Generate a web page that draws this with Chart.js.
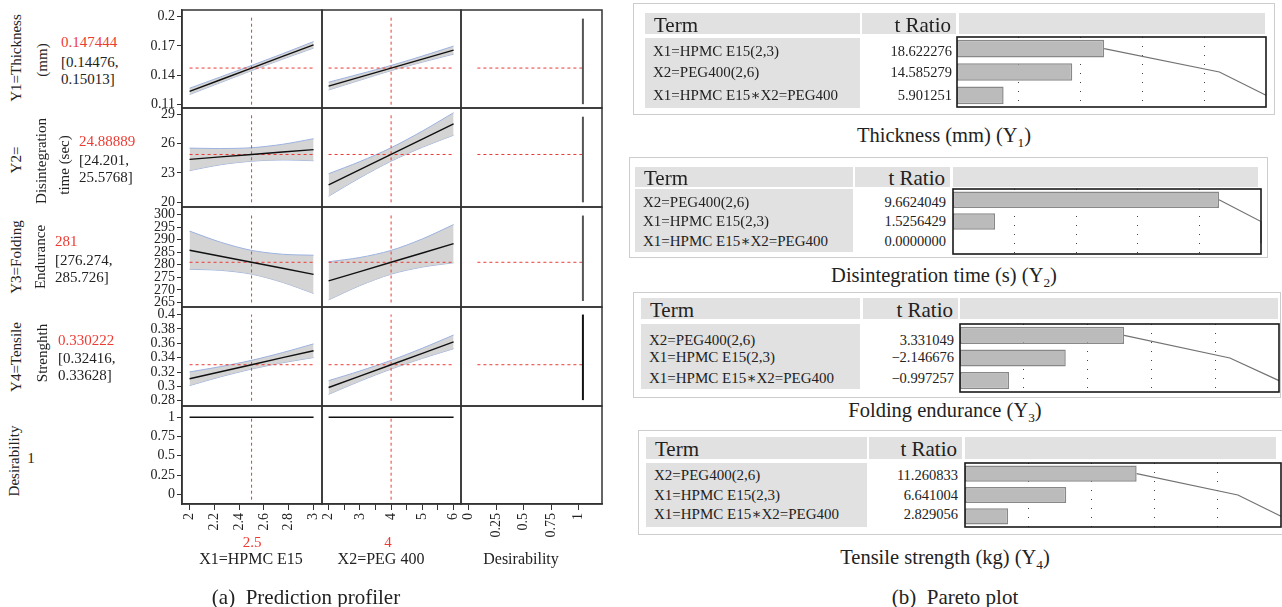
<!DOCTYPE html>
<html>
<head>
    <title>Prediction profiler and Pareto plot</title>
    <meta charset="utf-8" />
    <script src="https://cdn.jsdelivr.net/npm/chart.js"></script>
    <style>
        body {
            margin: 0;
            background: #fff;
            font-family: "Liberation Serif", "DejaVu Serif", serif;
            color: #222;
        }

        #page {
            position: relative;
            width: 1282px;
            height: 607px;
            overflow: hidden;
        }

        #page canvas {
            position: absolute;
        }

        .txt {
            position: absolute;
            white-space: nowrap;
            line-height: 1;
        }

        .gray {
            position: absolute;
            background: #e1e1e1;
        }

        .frame {
            position: absolute;
            border: 1.5px solid #cdcdcd;
            box-sizing: border-box;
        }

        sub {
            font-size: 0.65em;
            line-height: 0;
        }
    </style>
</head>
<body>
    <div id="page"></div>

    <script>
        // ---- profiler: factor settings ----
        const x1Grid = [2, 2.25, 2.5, 2.75, 3];
        const x2Grid = [2, 3, 4, 5, 6];
        const x1Ticks = [2, 2.2, 2.4, 2.6, 2.8, 3];
        const x2Ticks = [2, 2.5, 3, 3.5, 4, 4.5, 5, 5.5, 6];
        const desTicks = [0, 0.25, 0.5, 0.75, 1];
        const x1Now = 2.5;
        const x2Now = 4;

        // Y1 thickness
        const thickTicks = [0.11, 0.14, 0.17, 0.2];
        const thickNow = 0.147444;
        const thickCI = [0.14476, 0.15013];
        const thickPredX1 = [0.1236, 0.1355, 0.1474, 0.1593, 0.1712];
        const thickUpX1 = [0.1268, 0.1384, 0.1501, 0.1621, 0.1745];
        const thickLoX1 = [0.1204, 0.1326, 0.1448, 0.1565, 0.1679];
        const thickPredX2 = [0.1290, 0.1382, 0.1474, 0.1566, 0.1658];
        const thickUpX2 = [0.1330, 0.1414, 0.1501, 0.1597, 0.1699];
        const thickLoX2 = [0.1250, 0.1350, 0.1448, 0.1535, 0.1617];

        // Y2 disintegration time
        const disTicks = [20, 23, 26, 29];
        const disNow = 24.88889;
        const disCI = [24.201, 25.5768];
        const disPredX1 = [24.39, 24.64, 24.889, 25.14, 25.39];
        const disUpX1 = [25.54, 25.50, 25.577, 25.93, 26.50];
        const disLoX1 = [23.24, 23.84, 24.201, 24.33, 24.25];
        const disPredX2 = [21.77, 23.33, 24.889, 26.45, 28.01];
        const disUpX2 = [22.92, 24.16, 25.577, 27.28, 29.16];
        const disLoX2 = [20.62, 22.50, 24.201, 25.62, 26.86];

        // Y3 folding endurance
        const foldTicks = [265, 270, 275, 280, 285, 290, 295, 300];
        const foldNow = 281;
        const foldCI = [276.274, 285.726];
        const foldPredX1 = [285.8, 283.4, 281.0, 278.6, 276.2];
        const foldUpX1 = [293.4, 289.0, 285.726, 284.2, 283.8];
        const foldLoX1 = [278.2, 277.8, 276.274, 273.0, 268.6];
        const foldPredX2 = [273.6, 277.3, 281.0, 284.7, 288.4];
        const foldUpX2 = [281.2, 282.9, 285.726, 290.3, 296.0];
        const foldLoX2 = [266.0, 271.7, 276.274, 279.1, 280.8];

        // Y4 tensile strength
        const tensTicks = [0.28, 0.3, 0.32, 0.34, 0.36, 0.38, 0.4];
        const tensNow = 0.330222;
        const tensCI = [0.32416, 0.33628];
        const tensPredX1 = [0.3107, 0.3205, 0.3302, 0.3400, 0.3497];
        const tensUpX1 = [0.3202, 0.3276, 0.33628, 0.3471, 0.3592];
        const tensLoX1 = [0.3012, 0.3134, 0.32416, 0.3329, 0.3402];
        const tensPredX2 = [0.2985, 0.3144, 0.3302, 0.3461, 0.3620];
        const tensUpX2 = [0.3080, 0.3215, 0.33628, 0.3532, 0.3715];
        const tensLoX2 = [0.2890, 0.3073, 0.32416, 0.3390, 0.3525];

        // desirability
        const desirTicks = [0, 0.25, 0.5, 0.75, 1];
        const desirNow = 1;
        const desirX1 = [1, 1, 1, 1, 1];
        const desirX2 = [1, 1, 1, 1, 1];

        // desirability function traces (right column)
        const fnX = 1.04;
        const fnRedStart = 0.08;
        const thickFn = [0.1105, 0.198];
        const disFn = [20.0, 28.75];
        const foldFn = [265.6, 299.6];
        const tensFn = [0.281, 0.4];

        // ---- pareto plots ----
        const thickTerms = ['X1=HPMC E15(2,3)', 'X2=PEG400(2,6)', 'X1=HPMC E15∗X2=PEG400'];
        const thickT = [18.622276, 14.585279, 5.901251];
        const thickCum = [18.622276, 33.207555, 39.108806];

        const disTerms = ['X2=PEG400(2,6)', 'X1=HPMC E15(2,3)', 'X1=HPMC E15∗X2=PEG400'];
        const disT = [9.6624049, 1.5256429, 0.0];
        const disCum = [9.6624049, 11.1880478, 11.1880478];

        const foldTerms = ['X2=PEG400(2,6)', 'X1=HPMC E15(2,3)', 'X1=HPMC E15∗X2=PEG400'];
        const foldT = [3.331049, -2.146676, -0.997257];
        const foldCum = [3.331049, 5.477725, 6.474982];

        const tensTerms = ['X2=PEG400(2,6)', 'X1=HPMC E15(2,3)', 'X1=HPMC E15∗X2=PEG400'];
        const tensT = [11.260833, 6.641004, 2.829056];
        const tensCum = [11.260833, 17.901837, 20.730893];

        // ---- look ----
        const FONT = '"Liberation Serif", "DejaVu Serif", serif';
        const INK = '#222';
        const RED = '#ec3b33';
        const BAND = 'rgba(207,207,207,0.9)';
        const BAND_EDGE = '#9cb2e0';
        const P = 2;

        const page = document.getElementById('page');

        const colX = [182, 322, 461, 602];
        const rowY = [10, 108, 207, 307, 406, 504];
        const axisW = 62;
        const axisH = 45;

        const rows = [
            { ticks: thickTicks, range: [0.1066, 0.2068], now: thickNow, cross: [0.11, 0.2], fn: thickFn, fnColor: '#555',
              p1: thickPredX1, u1: thickUpX1, l1: thickLoX1, p2: thickPredX2, u2: thickUpX2, l2: thickLoX2 },
            { ticks: disTicks, range: [19.52, 29.64], now: disNow, cross: [20, 29], fn: disFn, fnColor: '#555',
              p1: disPredX1, u1: disUpX1, l1: disLoX1, p2: disPredX2, u2: disUpX2, l2: disLoX2 },
            { ticks: foldTicks, range: [263.2, 303.0], now: foldNow, cross: [265, 300], fn: foldFn, fnColor: '#555',
              p1: foldPredX1, u1: foldUpX1, l1: foldLoX1, p2: foldPredX2, u2: foldUpX2, l2: foldLoX2 },
            { ticks: tensTicks, range: [0.2728, 0.4105], now: tensNow, cross: [0.28, 0.4], fn: tensFn, fnColor: '#111',
              p1: tensPredX1, u1: tensUpX1, l1: tensLoX1, p2: tensPredX2, u2: tensUpX2, l2: tensLoX2 },
            { ticks: desirTicks, range: [-0.126, 1.147], now: desirNow, cross: [-0.07, 1],
              p1: desirX1, p2: desirX2 }
        ];

        const cols = [
            { grid: x1Grid, ticks: x1Ticks, range: [1.939, 3.068], now: x1Now, label: v => String(+v.toFixed(2)) },
            { grid: x2Grid, ticks: x2Ticks, range: [1.789, 6.237], now: x2Now, label: v => Number.isInteger(v) ? String(v) : '' },
            { ticks: desTicks, range: [-0.069, 1.2136], label: v => String(v) }
        ];

        // draws the box round the plot area
        const frame = {
            id: 'frame',
            afterDraw(chart, args, opts) {
                const a = chart.chartArea;
                const ctx = chart.ctx;
                ctx.save();
                ctx.strokeStyle = opts.color || '#333';
                ctx.lineWidth = opts.width || 1.5;
                ctx.strokeRect(a.left, a.top, a.right - a.left, a.bottom - a.top);
                ctx.restore();
            }
        };

        function addCanvas(left, top, w, h) {
            const c = document.createElement('canvas');
            c.width = w;
            c.height = h;
            c.style.left = left + 'px';
            c.style.top = top + 'px';
            c.style.width = w + 'px';
            c.style.height = h + 'px';
            page.appendChild(c);
            return c;
        }

        function text(str, x, y, opts) {
            opts = opts || {};
            const d = document.createElement('div');
            d.className = 'txt';
            d.innerHTML = str;
            d.style.left = x + 'px';
            d.style.top = y + 'px';
            d.style.fontSize = (opts.size || 15) + 'px';
            if (opts.color) d.style.color = opts.color;
            if (opts.rot) d.style.transform = 'translate(-50%,-50%) rotate(-90deg)';
            else if (opts.align === 'left') d.style.transform = 'translateY(-50%)';
            else if (opts.align === 'right') d.style.transform = 'translate(-100%,-50%)';
            else d.style.transform = 'translate(-50%,-50%)';
            page.appendChild(d);
        }

        function rect(cls, x, y, w, h) {
            const d = document.createElement('div');
            d.className = cls;
            d.style.left = x + 'px';
            d.style.top = y + 'px';
            d.style.width = w + 'px';
            d.style.height = h + 'px';
            page.appendChild(d);
        }

        const pts = (xs, ys) => xs.map((x, i) => ({ x: x, y: ys[i] }));

        function line(data, color, width, extra) {
            return Object.assign({ data: data, borderColor: color, borderWidth: width, pointRadius: 0, fill: false, tension: 0 }, extra || {});
        }

        function dashed(data) {
            return line(data, RED, 1, { borderDash: [3, 3] });
        }

        function profilerPanel(r, c) {
            const row = rows[r];
            const col = cols[c];
            const showY = c === 0;
            const showX = r === 4;
            const left = colX[c] - (showY ? axisW : P);
            const top = rowY[r] - P;
            const w = colX[c + 1] + P - left;
            const h = rowY[r + 1] + (showX ? axisH : P) - top;
            const cv = addCanvas(left, top, w, h);

            const ds = [];
            if (c < 2) {
                const last = col.grid[col.grid.length - 1];
                ds.push(line(pts(col.grid, c === 0 ? row.p1 : row.p2), '#111', 1.4));
                if (r < 4) ds.push(dashed(pts([col.grid[0], last], [row.now, row.now])));
                ds.push(dashed(pts([col.now, col.now], row.cross)));
                if (row.u1) {
                    ds.push(line(pts(col.grid, c === 0 ? row.u1 : row.u2), BAND_EDGE, 1, { fill: '+1', backgroundColor: BAND, tension: 0.3 }));
                    ds.push(line(pts(col.grid, c === 0 ? row.l1 : row.l2), BAND_EDGE, 1, { tension: 0.3 }));
                }
            } else if (r < 4) {
                ds.push(line(pts([fnX, fnX], row.fn), row.fnColor, 2));
                ds.push(dashed(pts([fnRedStart, fnX], [row.now, row.now])));
            }

            const xScale = {
                type: 'linear',
                min: col.range[0],
                max: col.range[1],
                display: showX,
                afterBuildTicks: s => { s.ticks = col.ticks.map(v => ({ value: v })); },
                ticks: { autoSkip: false, minRotation: 90, maxRotation: 90, padding: 3, color: INK,
                         font: { family: FONT, size: 14 }, callback: v => col.label(v) },
                grid: { drawOnChartArea: false, drawTicks: true, tickLength: 6, color: '#333' },
                border: { display: true, color: '#333', width: 1.5 }
            };
            if (showX) xScale.afterFit = s => { s.height = axisH; s.paddingLeft = 0; s.paddingRight = 0; };

            const yScale = {
                type: 'linear',
                min: row.range[0],
                max: row.range[1],
                display: showY,
                afterBuildTicks: s => { s.ticks = row.ticks.map(v => ({ value: v })); },
                ticks: { autoSkip: false, padding: 2, color: INK, font: { family: FONT, size: 14 }, callback: v => String(+v.toFixed(3)) },
                grid: { drawOnChartArea: false, drawTicks: true, tickLength: 5, color: '#333' },
                border: { display: true, color: '#333', width: 1.5 }
            };
            if (showY) yScale.afterFit = s => { s.width = axisW; s.paddingTop = 0; s.paddingBottom = 0; };

            new Chart(cv, {
                type: 'line',
                data: { datasets: ds },
                options: {
                    responsive: false,
                    animation: false,
                    devicePixelRatio: 1,
                    events: [],
                    layout: { padding: { left: showY ? 0 : P, right: P, top: P, bottom: showX ? 0 : P } },
                    plugins: { legend: { display: false }, tooltip: { enabled: false }, frame: { color: '#333', width: 1.5 } },
                    scales: { x: xScale, y: yScale }
                },
                plugins: [frame]
            });
        }

        for (let r = 0; r < 5; r++) {
            for (let c = 0; c < 3; c++) profilerPanel(r, c);
        }

        // row titles, predicted values and intervals
        text('Y1=Thickness', 16, 58, { rot: true });
        text('(mm)', 42, 60, { rot: true });
        text(String(thickNow), 61, 42, { align: 'left', color: RED });
        text('[' + thickCI[0] + ',', 61, 62, { align: 'left' });
        text(thickCI[1] + ']', 61, 79, { align: 'left' });

        text('Y2=', 16, 160, { rot: true });
        text('Disintegration', 41, 161, { rot: true });
        text('time (sec)', 64, 165, { rot: true });
        text(String(disNow), 79, 141, { align: 'left', color: RED });
        text('[' + disCI[0] + ',', 79, 160, { align: 'left' });
        text(disCI[1] + ']', 79, 177, { align: 'left' });

        text('Y3=Folding', 16, 257, { rot: true });
        text('Endurance', 40, 257, { rot: true });
        text(String(foldNow), 55, 241, { align: 'left', color: RED });
        text('[' + foldCI[0] + ',', 55, 260, { align: 'left' });
        text(foldCI[1] + ']', 55, 277, { align: 'left' });

        text('Y4=Tensile', 16, 357, { rot: true });
        text('Strenghth', 42, 353, { rot: true });
        text(String(tensNow), 58, 340, { align: 'left', color: RED });
        text('[' + tensCI[0] + ',', 58, 358, { align: 'left' });
        text(tensCI[1] + ']', 58, 375, { align: 'left' });

        text('Desirability', 14, 461, { rot: true });
        text(String(desirNow), 31, 458, {});

        text(String(x1Now), 252, 542, { color: RED });
        text('X1=HPMC E15', 251, 559, { size: 16 });
        text(String(x2Now), 388, 542, { color: RED });
        text('X2=PEG 400', 381, 559, { size: 16 });
        text('Desirability', 521, 559, { size: 16 });
        text('(a)&nbsp; Prediction profiler', 306, 597, { size: 21 });

        // ---- pareto boxes ----
        const pareto = [
            { terms: thickTerms, t: thickT, cum: thickCum, dec: 6, caption: 'Thickness (mm) (Y<sub>1</sub>)' },
            { terms: disTerms, t: disT, cum: disCum, dec: 7, caption: 'Disintegration time (s) (Y<sub>2</sub>)' },
            { terms: foldTerms, t: foldT, cum: foldCum, dec: 6, caption: 'Folding endurance (Y<sub>3</sub>)' },
            { terms: tensTerms, t: tensT, cum: tensCum, dec: 6, caption: 'Tensile strength (kg) (Y<sub>4</sub>)' }
        ];

        const parLayout = [
            { frame: [633, 3, 1275, 115], head: [13, 34], term: [645, 860], tr: [862, 956], bar: [959, 1265],
              body: [38, 108], rows: [51, 72, 95], plot: [957, 37, 1266, 107], cap: [944, 135] },
            { frame: [629, 157, 1268, 258], head: [167, 187], term: [635, 853], tr: [855, 950], bar: [953, 1258],
              body: [189, 252], rows: [202, 221, 241], plot: [953, 189, 1261, 254], cap: [944, 275] },
            { frame: [633, 292, 1281, 398], head: [298, 319], term: [641, 860], tr: [863, 958], bar: [960, 1278],
              body: [324, 389], rows: [340, 357, 378], plot: [960, 324, 1279, 392], cap: [945, 410] },
            { frame: [638, 430, 1283, 535], head: [437, 459], term: [646, 867], tr: [869, 962], bar: [965, 1276],
              body: [463, 527], rows: [475, 495, 514], plot: [965, 463, 1281, 527], cap: [945, 557] }
        ];

        function fmt(v, dec) {
            return v.toFixed(dec).replace('-', '−');
        }

        function paretoBox(k) {
            const L = parLayout[k];
            const d = pareto[k];
            const hm = (L.head[0] + L.head[1]) / 2;
            rect('frame', L.frame[0], L.frame[1], L.frame[2] - L.frame[0], L.frame[3] - L.frame[1]);
            rect('gray', L.term[0], L.head[0], L.term[1] - L.term[0], L.head[1] - L.head[0]);
            rect('gray', L.tr[0], L.head[0], L.tr[1] - L.tr[0], L.head[1] - L.head[0]);
            rect('gray', L.bar[0], L.head[0], L.bar[1] - L.bar[0], L.head[1] - L.head[0]);
            rect('gray', L.term[0], L.body[0], L.term[1] - L.term[0], L.body[1] - L.body[0]);
            text('Term', L.term[0] + 9, hm + 1, { size: 21, align: 'left' });
            text('t Ratio', L.tr[1] - 5, hm + 1, { size: 21, align: 'right' });
            d.terms.forEach((t, i) => {
                text(t, L.term[0] + 8, L.rows[i], { size: 15, align: 'left' });
                text(fmt(d.t[i], d.dec), L.tr[1] - 4, L.rows[i], { size: 14.5, align: 'right' });
            });
            text(d.caption, L.cap[0], L.cap[1], { size: 20.5 });

            const [x0, y0, x1, y1] = L.plot;
            const cv = addCanvas(x0 - P, y0 - P, x1 - x0 + 2 * P, y1 - y0 + 2 * P);
            const max = d.cum[d.cum.length - 1];
            new Chart(cv, {
                type: 'bar',
                data: {
                    labels: d.terms,
                    datasets: [
                        { type: 'line', indexAxis: 'y', data: d.cum, borderColor: '#727272', borderWidth: 1.2,
                          pointRadius: 0, fill: false, clip: 3 },
                        { data: d.t.map(v => Math.abs(v)), backgroundColor: '#bbbbbb', borderColor: '#888888',
                          borderWidth: 1.5, borderSkipped: false, barPercentage: 0.76, categoryPercentage: 1 }
                    ]
                },
                options: {
                    indexAxis: 'y',
                    responsive: false,
                    animation: false,
                    devicePixelRatio: 1,
                    events: [],
                    layout: { padding: P },
                    plugins: { legend: { display: false }, tooltip: { enabled: false }, frame: { color: '#1a1a1a', width: 1.6 } },
                    scales: {
                        x: {
                            type: 'linear', min: 0, max: max,
                            ticks: { display: false },
                            grid: { drawTicks: false, color: '#444', lineWidth: 1 },
                            border: { display: false, dash: [1, 8] },
                            afterBuildTicks: s => { s.ticks = [0.2, 0.4, 0.6, 0.8].map(f => ({ value: max * f })); },
                            afterFit: s => { s.height = 0; }
                        },
                        y: { display: false }
                    }
                },
                plugins: [frame]
            });
        }

        for (let k = 0; k < 4; k++) paretoBox(k);

        text('(b)&nbsp; Pareto plot', 955, 597, { size: 21 });
    </script>
</body>
</html>
